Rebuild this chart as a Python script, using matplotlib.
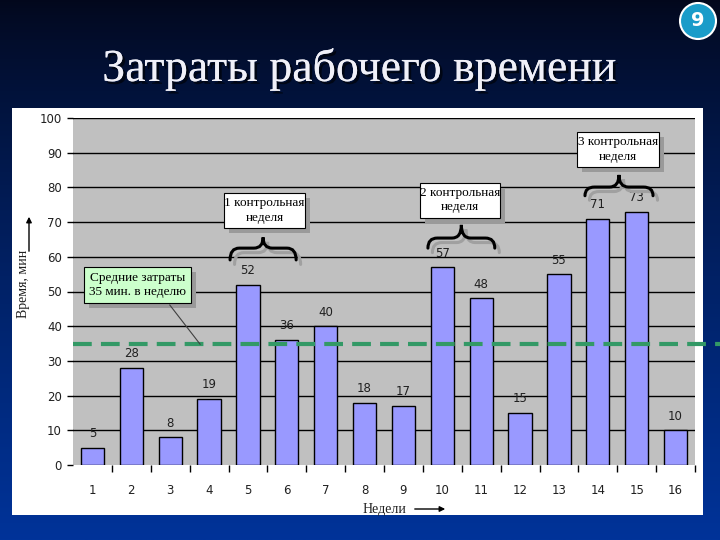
import numpy as np
import matplotlib
matplotlib.use("Agg")
import matplotlib.pyplot as plt
from matplotlib.patches import Rectangle, Circle
from matplotlib.path import Path
from matplotlib.patches import PathPatch
import matplotlib.patheffects as pe

weeks = list(range(1, 17))
minutes = [5, 28, 8, 19, 52, 36, 40, 18, 17, 57, 48, 15, 55, 71, 73, 10]
avg_minutes = 35
yticks = [0, 10, 20, 30, 40, 50, 60, 70, 80, 90, 100]
title = "Затраты рабочего времени"
ylabel = "Время, мин"
xlabel = "Недели"
avg_note = "Средние затраты\n35 мин. в неделю"
ctrl_notes = ["1 контрольная\nнеделя", "2 контрольная\nнеделя", "3 контрольная\nнеделя"]

W, H = 720, 540
fig = plt.figure(figsize=(7.2, 5.4), dpi=100)

# background gradient
bg = fig.add_axes([0, 0, 1, 1])
bg.set_xlim(0, W); bg.set_ylim(H, 0); bg.axis("off")
t = np.linspace(0, 1, 256)[:, None]
top = np.array([0.01, 0.03, 0.11]); bot = np.array([0.0, 0.20, 0.60])
grad = top + (bot - top) * (t ** 0.8)[:, :, None] * np.ones((1, 2, 1))
bg.imshow(grad, extent=[0, W, H, 0], aspect="auto", zorder=0)
bg.add_patch(Rectangle((12, 108), 691, 407, facecolor="white", edgecolor="none", zorder=1))
bg.text(360, 69, title, ha="center", va="center", fontsize=33, color="#f0f0f8",
        family="Liberation Serif", zorder=2,
        path_effects=[pe.withSimplePatchShadow(offset=(2, -2), shadow_rgbFace="black", alpha=0.6),
                      pe.Normal()])
bg.add_patch(Circle((698, 21), 18, facecolor="#1a9cc9", edgecolor="white", lw=1.5, zorder=2))
bg.text(698, 21, "9", ha="center", va="center", fontsize=14, color="white", weight="bold", zorder=3)

# main axes
L, R, T, B = 73, 695, 118, 465
ax = fig.add_axes([L / W, 1 - B / H, (R - L) / W, (B - T) / H])
ax.set_facecolor("#c0c0c0")
ax.set_xlim(0.5, 16.5)
ax.set_ylim(0, 100)
for s in ax.spines.values():
    s.set_visible(False)
ax.set_yticks(yticks)
ax.set_yticklabels([str(v) for v in yticks], fontsize=8.5, family="DejaVu Sans", color="#202020")
ax.set_xticks(weeks)
ax.set_xticklabels([str(w) for w in weeks], fontsize=8.5, family="DejaVu Sans", color="#202020")
ax.tick_params(axis="x", length=0, pad=14)
ax.set_xticks(np.arange(1.5, 17, 1), minor=True)
ax.tick_params(axis="x", which="minor", length=5, width=1, color="black", direction="out")
ax.tick_params(axis="y", length=4, width=1, color="black", direction="out", pad=4)
for v in yticks[1:]:
    ax.axhline(v, color="black", lw=1, zorder=1)

ax.bar(weeks, minutes, width=0.6, color="#9999ff", edgecolor="black", lw=1, zorder=2)
for w, m in zip(weeks, minutes):
    ax.text(w, m + 2.2, str(m), ha="center", va="bottom", fontsize=8.5,
            family="DejaVu Sans", color="#202020", zorder=3)

ax.plot([0.5, 17.3], [avg_minutes, avg_minutes], color="#339966", lw=3,
        dashes=(4.5, 2.2), zorder=4, clip_on=False)

px = (R - L) / 16.0
py = (B - T) / 100.0
sx = 5 / px
sy = 5 / py


def box(x0, x1, y0, y1, text, fc):
    ax.add_patch(Rectangle((x0 + sx, y0 - sy), x1 - x0, y1 - y0, facecolor="#9a9a9a",
                           edgecolor="none", zorder=5, clip_on=False))
    ax.add_patch(Rectangle((x0, y0), x1 - x0, y1 - y0, facecolor=fc,
                           edgecolor="black", lw=0.8, zorder=6, clip_on=False))
    ax.text((x0 + x1) / 2, (y0 + y1) / 2, text, ha="center", va="center", fontsize=9.5,
            family="Liberation Serif", linespacing=1.25, zorder=7)


def brace(x0, x1, yt, yh, ys, color, lw, z, dx=0, dy=0):
    xm = (x0 + x1) / 2
    r = (x1 - x0) * 0.14
    x0 += dx; x1 += dx; xm += dx
    yt += dy; yh += dy; ys += dy
    verts = [(x0, yt), (x0, yh), (x0 + r, yh),
             (xm - r, yh),
             (xm, yh), (xm, ys),
             (xm, yh), (xm + r, yh),
             (x1 - r, yh),
             (x1, yh), (x1, yt)]
    codes = [Path.MOVETO, Path.CURVE3, Path.CURVE3,
             Path.LINETO,
             Path.CURVE3, Path.CURVE3,
             Path.CURVE3, Path.CURVE3,
             Path.LINETO,
             Path.CURVE3, Path.CURVE3]
    ax.add_patch(PathPatch(Path(verts, codes), facecolor="none", edgecolor=color, lw=lw,
                           zorder=z, clip_on=False, capstyle="round"))


# average note
box(0.78, 3.54, 46.6, 57.2, avg_note, "#ccffcc")
ax.plot([2.99, 3.77], [46.1, 34.8], color="#404040", lw=0.8, zorder=5)

# control week boxes and braces
boxes = [(4.38, 6.47, 68.3, 78.4), (9.43, 11.48, 71.2, 81.4), (13.46, 15.57, 85.9, 96.0)]
braces = [(4.54, 6.24, 59.1, 62.5, 65.6), (9.63, 11.35, 62.5, 65.4, 69.2),
          (13.67, 15.42, 77.6, 80.1, 83.6)]
for (x0, x1, y0, y1), note in zip(boxes, ctrl_notes):
    box(x0, x1, y0, y1, note, "white")
for (x0, x1, yt, yh, ys) in braces:
    brace(x0, x1, yt, yh, ys, "#a0a0a0", 2.2, 5, dx=sx * 0.9, dy=-sy * 0.9)
    brace(x0, x1, yt, yh, ys, "black", 2.2, 6)

# axis labels with arrows
bg.text(23, 284, ylabel, rotation=90, ha="center", va="center", fontsize=10,
        family="Liberation Serif", color="#202020", zorder=3)
bg.annotate("", xy=(29, 214), xytext=(29, 254),
            arrowprops=dict(arrowstyle="-|>", color="black", lw=1, mutation_scale=8), zorder=3)
bg.text(384, 509, xlabel, ha="center", va="center", fontsize=10,
        family="Liberation Serif", color="#202020", zorder=3)
bg.annotate("", xy=(448, 509), xytext=(412, 509),
            arrowprops=dict(arrowstyle="-|>", color="black", lw=1, mutation_scale=8), zorder=3)

fig.savefig("out.png", dpi=100)
